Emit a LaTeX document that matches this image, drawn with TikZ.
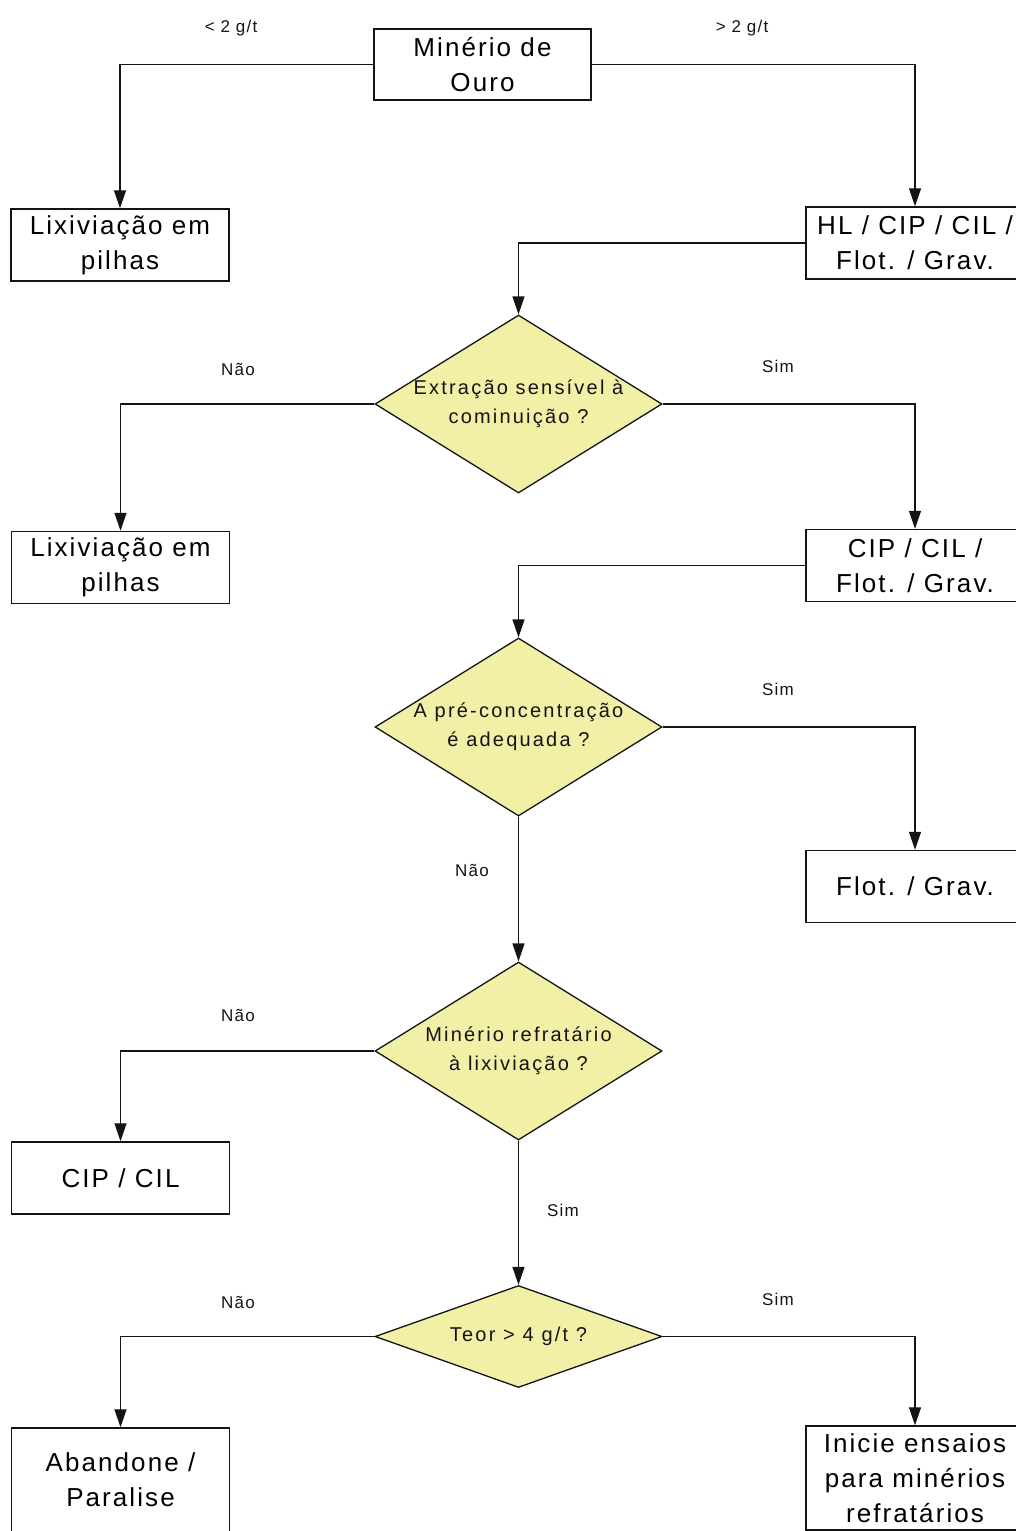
\documentclass[tikz,border=0pt]{standalone}
\usepackage{fontspec}
\setmainfont{Liberation Sans}
\newfontfamily\boxfam[LetterSpace=8]{Liberation Sans}
\newfontfamily\decfam[LetterSpace=11]{Liberation Sans}
\newfontfamily\lblfam[LetterSpace=7]{Liberation Sans}
\usetikzlibrary{arrows.meta,shapes.geometric}
\definecolor{decfill}{RGB}{242,239,166}
\definecolor{ink}{RGB}{20,20,20}

\begin{document}
\begin{tikzpicture}[x=1pt,y=-1pt,
  stepbox/.style={draw=ink, line width=1.5pt, fill=white, minimum width=218pt,
    minimum height=72pt, inner sep=0pt, align=center,
    font=\boxfam\fontsize{26}{35}\selectfont},
  decision/.style={diamond, draw=ink, fill=decfill, line width=1.3pt,
    inner sep=0pt, minimum width=287pt, minimum height=178pt},
  dectext/.style={font=\decfam\fontsize{20}{29}\selectfont, align=center, text=ink},
  flow/.style={draw=ink, line width=1.3pt, -{Triangle[length=18pt,width=12pt]}},
  tag/.style={font=\lblfam\fontsize{17}{19}\selectfont, text=ink}
]
\useasboundingbox (0,0) rectangle (1016,1531);
\clip (0,0) rectangle (1016,1531);
\fill[white] (0,0) rectangle (1016,1531);

% process boxes
\node[stepbox, minimum width=217pt, minimum height=71pt] (ore) at (482.5,64.5) {Minério de\\Ouro};
\node[stepbox] (heap1) at (120,245) {Lixiviação em\\pilhas};
\node[stepbox] (all) at (915,243) {HL / CIP / CIL /\\Flot. / Grav.};
\node[stepbox] (heap2) at (120.5,567.5) {Lixiviação em\\pilhas};
\node[stepbox] (cipflot) at (915,565.5) {CIP / CIL /\\Flot. / Grav.};
\node[stepbox] (flot) at (915,886.5) {Flot. / Grav.};
\node[stepbox] (cip) at (120.5,1178) {CIP / CIL};
\node[stepbox, minimum height=104pt] (stop) at (120.5,1480) {Abandone /\\Paralise};
\node[stepbox, minimum height=104pt] (refr) at (915,1478) {Inicie ensaios\\para minérios\\refratários};

% decisions
\node[decision] (q1) at (518.5,404) {};
\node[dectext] at (q1.center) {Extração sensível à\\cominuição ?};
\node[decision] (q2) at (518.5,727) {};
\node[dectext] at (q2.center) {A pré-concentração\\é adequada ?};
\node[decision] (q3) at (518.5,1051) {};
\node[dectext] at (q3.center) {Minério refratário\\à lixiviação ?};
\node[decision, minimum height=102pt] (q4) at (518.5,1336.5) {};
\node[dectext] at (q4.center) {Teor > 4 g/t ?};

% connectors
\draw[flow] (ore.west) -| (heap1.north);
\draw[flow] (ore.east) -| (all.north);
\draw[flow] (all.west) -| (q1.north);
\draw[flow] (q1.west) -| (heap2.north);
\draw[flow] (q1.east) -| (cipflot.north);
\draw[flow] (cipflot.west) -| (q2.north);
\draw[flow] (q2.east) -| (flot.north);
\draw[flow] (q2.south) -- (q3.north);
\draw[flow] (q3.west) -| (cip.north);
\draw[flow] (q3.south) -- (q4.north);
\draw[flow] (q4.west) -| (stop.north);
\draw[flow] (q4.east) -| (refr.north);

% branch labels
\node[tag] (lo) at (231,28) {< 2 g/t};
\node[tag] (hi) at (742,28) {> 2 g/t};
\node[tag] (n1) at (238,369) {Não};
\node[tag] (s1) at (778,366) {Sim};
\node[tag] (s2) at (778,689) {Sim};
\node[tag] (n2) at (472,870) {Não};
\node[tag] (n3) at (238,1015) {Não};
\node[tag] (s3) at (563,1210) {Sim};
\node[tag] (n4) at (238,1302) {Não};
\node[tag] (s4) at (778,1299) {Sim};
\end{tikzpicture}
\end{document}
